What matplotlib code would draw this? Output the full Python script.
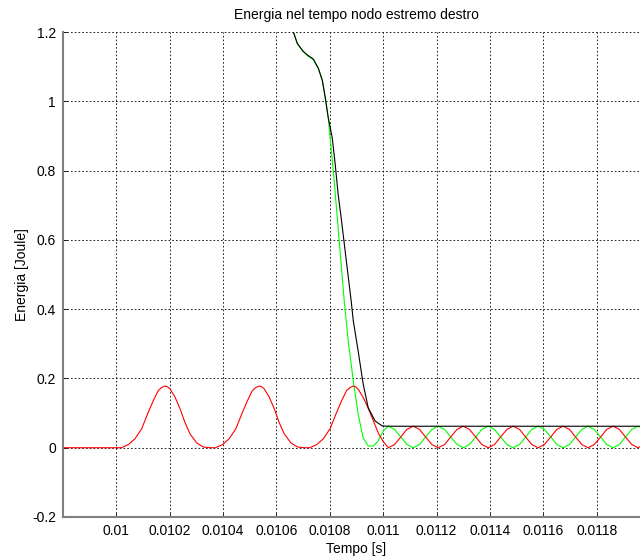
import matplotlib
matplotlib.use("Agg")
import matplotlib.pyplot as plt

# energia potenziale (rossa)
t_red = [
    0.009801, 0.010019, 0.010045, 0.010070, 0.010095, 0.010120, 0.010139, 0.010157,
    0.010170, 0.010182, 0.010192, 0.010201, 0.010220, 0.010239, 0.010257, 0.010276,
    0.010301, 0.010326, 0.010351,
    0.010372, 0.010398, 0.010423, 0.010448, 0.010473, 0.010492, 0.010510, 0.010523,
    0.010535, 0.010545, 0.010554, 0.010573, 0.010592, 0.010610, 0.010629, 0.010654,
    0.010679, 0.010704,
    0.010725, 0.010751, 0.010776, 0.010801, 0.010826, 0.010845, 0.010863, 0.010876,
    0.010888, 0.010898, 0.010907, 0.010926, 0.010945, 0.010963, 0.010982, 0.011000,
    0.011019, 0.011042, 0.011066, 0.011089, 0.011113, 0.011136, 0.011159, 0.011183,
    0.011206, 0.011230, 0.011253, 0.011277, 0.011300, 0.011323, 0.011347, 0.011370,
    0.011394, 0.011417, 0.011440, 0.011464, 0.011487, 0.011511, 0.011534, 0.011557,
    0.011581, 0.011604, 0.011628, 0.011651, 0.011674, 0.011698, 0.011721, 0.011745,
    0.011768, 0.011791, 0.011815, 0.011838, 0.011862, 0.011885, 0.011908, 0.011932,
    0.011955, 0.011979, 0.012002,
]
e_red = [
    0.0, 0.0, 0.009, 0.026, 0.055, 0.103, 0.137, 0.165,
    0.174, 0.178, 0.176, 0.170, 0.146, 0.112, 0.073, 0.040,
    0.014, 0.002, 0.0,
    0.0, 0.009, 0.026, 0.055, 0.103, 0.137, 0.165, 0.174,
    0.178, 0.176, 0.170, 0.146, 0.112, 0.073, 0.040, 0.014,
    0.002, 0.0,
    0.0, 0.009, 0.026, 0.055, 0.103, 0.137, 0.165, 0.174,
    0.178, 0.175, 0.168, 0.144, 0.112, 0.078, 0.042, 0.018,
    0.0, 0.009, 0.031, 0.053, 0.062, 0.053, 0.031, 0.009,
    0.0, 0.009, 0.031, 0.053, 0.062, 0.053, 0.031, 0.009,
    0.0, 0.009, 0.031, 0.053, 0.062, 0.053, 0.031, 0.009,
    0.0, 0.009, 0.031, 0.053, 0.062, 0.053, 0.031, 0.009,
    0.0, 0.009, 0.031, 0.053, 0.062, 0.053, 0.031, 0.009,
    0.0, 0.009, 0.031,
]

# energia cinetica (verde)
t_green = [
    0.010655, 0.010663, 0.010678, 0.010700, 0.010719, 0.010738, 0.010757, 0.010772,
    0.010783, 0.010794, 0.010801, 0.010813, 0.010828, 0.010854, 0.010869, 0.010888,
    0.010906, 0.010925, 0.010944, 0.010963, 0.010981, 0.011000,
    0.011019, 0.011042, 0.011066, 0.011089, 0.011113, 0.011136, 0.011159, 0.011183,
    0.011206, 0.011230, 0.011253, 0.011277, 0.011300, 0.011323, 0.011347, 0.011370,
    0.011394, 0.011417, 0.011440, 0.011464, 0.011487, 0.011511, 0.011534, 0.011557,
    0.011581, 0.011604, 0.011628, 0.011651, 0.011674, 0.011698, 0.011721, 0.011745,
    0.011768, 0.011791, 0.011815, 0.011838, 0.011862, 0.011885, 0.011908, 0.011932,
    0.011955, 0.011979, 0.012002,
]
e_green = [
    1.230, 1.201, 1.167, 1.144, 1.130, 1.120, 1.095, 1.060,
    1.010, 0.953, 0.895, 0.800, 0.664, 0.424, 0.308, 0.193,
    0.098, 0.028, 0.005, 0.005, 0.019, 0.048,
    0.062, 0.053, 0.031, 0.009, 0.0, 0.009, 0.031, 0.053,
    0.062, 0.053, 0.031, 0.009, 0.0, 0.009, 0.031, 0.053,
    0.062, 0.053, 0.031, 0.009, 0.0, 0.009, 0.031, 0.053,
    0.062, 0.053, 0.031, 0.009, 0.0, 0.009, 0.031, 0.053,
    0.062, 0.053, 0.031, 0.009, 0.0, 0.009, 0.031, 0.053,
    0.062, 0.053, 0.031,
]

# energia totale (nera)
t_black = [
    0.010655, 0.010663, 0.010678, 0.010700, 0.010719, 0.010738, 0.010757, 0.010772,
    0.010783, 0.010794, 0.010809, 0.010820, 0.010831, 0.010843, 0.010861, 0.010880,
    0.010888, 0.010906, 0.010925, 0.010944, 0.010970, 0.010996, 0.011019, 0.012002,
]
e_black = [
    1.230, 1.201, 1.167, 1.144, 1.132, 1.122, 1.095, 1.060,
    1.010, 0.953, 0.895, 0.820, 0.733, 0.661, 0.545, 0.424,
    0.366, 0.280, 0.184, 0.115, 0.077, 0.063, 0.062, 0.062,
]

xticks = [0.0100, 0.0102, 0.0104, 0.0106, 0.0108, 0.0110, 0.0112, 0.0114, 0.0116, 0.0118]
xlabels = ["0.01", "0.0102", "0.0104", "0.0106", "0.0108", "0.011",
           "0.0112", "0.0114", "0.0116", "0.0118"]
yticks = [-0.2, 0.0, 0.2, 0.4, 0.6, 0.8, 1.0, 1.2]
ylabels = ["-0.2", "0", "0.2", "0.4", "0.6", "0.8", "1", "1.2"]

plt.rcParams["font.family"] = ["Liberation Sans", "DejaVu Sans"]

fig = plt.figure(figsize=(6.4, 5.59), dpi=100)
ax = fig.add_axes([63 / 640, 42 / 559, 587 / 640, 485 / 559])

ax.plot(t_green, e_green, color="#00ff00", linewidth=0.8)
ax.plot(t_red, e_red, color="#ff0000", linewidth=0.8)
ax.plot(t_black, e_black, color="black", linewidth=0.8)

ax.set_xlim(0.0098, 0.0120)
ax.set_ylim(-0.2, 1.2)
ax.set_xticks(xticks)
ax.set_xticklabels(xlabels)
ax.set_yticks(yticks)
ax.set_yticklabels(ylabels)

ax.grid(True, color="black", linestyle=(0, (2, 2.5)), linewidth=0.6)
ax.tick_params(direction="in", length=3, width=0.6, labelsize=10, pad=5)
for side in ("top", "right"):
    ax.spines[side].set_visible(False)
for side in ("left", "bottom"):
    ax.spines[side].set_color("#808080")
    ax.spines[side].set_linewidth(1.5)

ax.set_title("Energia nel tempo nodo estremo destro", fontsize=10, pad=9)
ax.set_xlabel("Tempo [s]", fontsize=10, labelpad=3)
ax.set_ylabel("Energia [Joule]", fontsize=10, labelpad=2)

fig.savefig("out.png", dpi=100)
